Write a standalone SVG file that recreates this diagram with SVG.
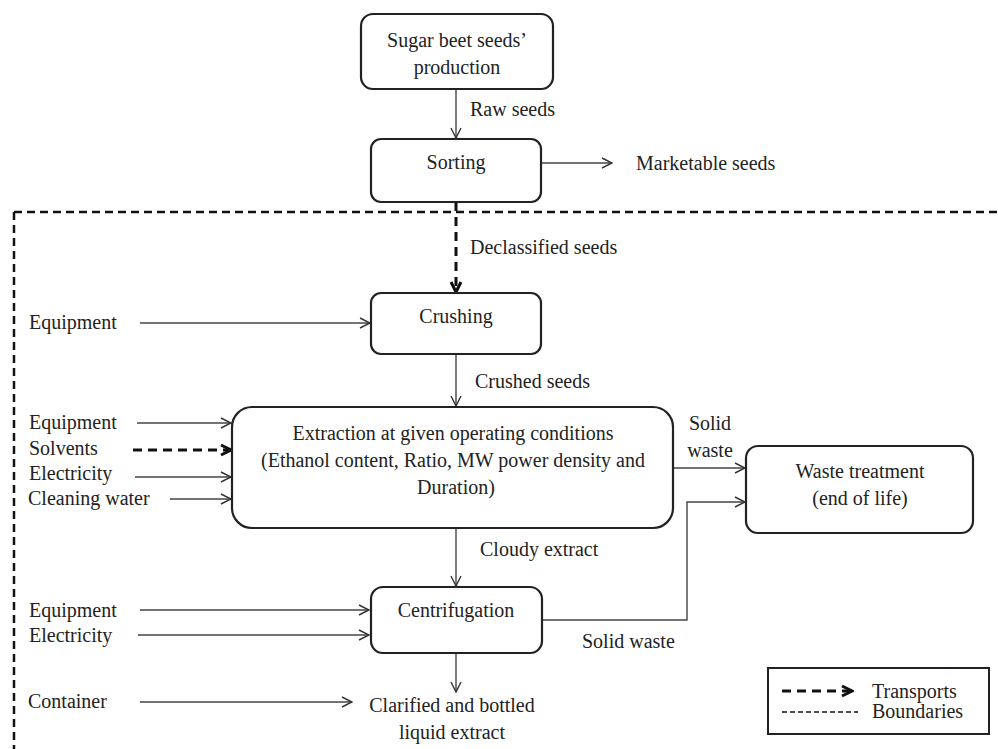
<svg xmlns="http://www.w3.org/2000/svg" width="998" height="749" viewBox="0 0 998 749">
<defs>
<style>
text{font-family:"Liberation Serif","Times New Roman",serif;font-size:20px;fill:#222}
.c{text-anchor:middle}
.box{fill:#fff;stroke:#222;stroke-width:2.2}
.ln{fill:none;stroke:#444;stroke-width:1.4}
.tr{fill:none;stroke:#111;stroke-width:3;stroke-dasharray:9 6}
.bd{fill:none;stroke:#111;stroke-width:2.5;stroke-dasharray:8 5}
</style>
<marker id="a" viewBox="0 0 12 12" refX="11" refY="6" markerWidth="12" markerHeight="12" markerUnits="userSpaceOnUse" orient="auto">
<path d="M1,1 L11,6 L1,11" fill="none" stroke="#333" stroke-width="1.4"/>
</marker>
<marker id="at" viewBox="0 0 14 14" refX="12" refY="7" markerWidth="14" markerHeight="14" markerUnits="userSpaceOnUse" orient="auto">
<path d="M2,2 L12,7 L2,12" fill="none" stroke="#111" stroke-width="3"/>
</marker>
</defs>

<g id="boundary">
<path class="bd" d="M14,212 H998"/>
<path class="bd" d="M14,212 V749" stroke-dasharray="6 4"/>
</g>

<g id="connectors">
<path class="ln" d="M456,89 V138" marker-end="url(#a)"/>
<path class="ln" d="M541,163 H612" marker-end="url(#a)"/>
<path class="tr" d="M456,202 V292" marker-end="url(#at)"/>
<path class="ln" d="M140,323 H370" marker-end="url(#a)"/>
<path class="ln" d="M456,354 V406" marker-end="url(#a)"/>
<path class="ln" d="M137,423 H231" marker-end="url(#a)"/>
<path class="tr" d="M133,450 H231" marker-end="url(#at)"/>
<path class="ln" d="M135,477 H231" marker-end="url(#a)"/>
<path class="ln" d="M170,499 H231" marker-end="url(#a)"/>
<path class="ln" d="M673,468 H745" marker-end="url(#a)"/>
<path class="ln" d="M542,620 H687 V502 H745" marker-end="url(#a)"/>
<path class="ln" d="M456,528 V586" marker-end="url(#a)"/>
<path class="ln" d="M140,610 H369" marker-end="url(#a)"/>
<path class="ln" d="M138,635 H369" marker-end="url(#a)"/>
<path class="ln" d="M456,653 V692" marker-end="url(#a)"/>
<path class="ln" d="M140,702 H352" marker-end="url(#a)"/>
</g>

<g id="seeds-production">
<rect class="box" x="361" y="14" width="192" height="75" rx="12"/>
<text class="c" x="457" y="47">Sugar beet seeds’</text>
<text class="c" x="457" y="74">production</text>
</g>
<g id="sorting">
<rect class="box" x="371" y="139" width="170" height="63" rx="10"/>
<text class="c" x="456" y="169">Sorting</text>
</g>
<g id="crushing">
<rect class="box" x="371" y="293" width="170" height="61" rx="10"/>
<text class="c" x="456" y="323">Crushing</text>
</g>
<g id="extraction">
<rect class="box" x="232" y="407" width="441" height="121" rx="20"/>
<text class="c" x="453" y="440">Extraction at given operating conditions</text>
<text class="c" x="453" y="467">(Ethanol content, Ratio, MW power density and</text>
<text class="c" x="456" y="494">Duration)</text>
</g>
<g id="waste-treatment">
<rect class="box" x="746" y="446" width="227" height="87" rx="12"/>
<text class="c" x="860" y="478">Waste treatment</text>
<text class="c" x="860" y="505">(end of life)</text>
</g>
<g id="centrifugation">
<rect class="box" x="371" y="587" width="171" height="66" rx="12"/>
<text class="c" x="456" y="617">Centrifugation</text>
</g>
<g id="clarified-extract">
<text class="c" x="452" y="712">Clarified and bottled</text>
<text class="c" x="452" y="739">liquid extract</text>
</g>

<g id="labels">
<text x="470" y="116">Raw seeds</text>
<text x="636" y="170">Marketable seeds</text>
<text x="470" y="254">Declassified seeds</text>
<text x="29" y="329">Equipment</text>
<text x="475" y="388">Crushed seeds</text>
<text x="29" y="429">Equipment</text>
<text x="29" y="455">Solvents</text>
<text x="29" y="480">Electricity</text>
<text x="28" y="505">Cleaning water</text>
<text class="c" x="710" y="430">Solid</text>
<text class="c" x="710" y="457">waste</text>
<text x="480" y="556">Cloudy extract</text>
<text x="29" y="617">Equipment</text>
<text x="29" y="642">Electricity</text>
<text x="582" y="648">Solid waste</text>
<text x="28" y="708">Container</text>
</g>

<g id="legend">
<rect x="768" y="668" width="221" height="66" fill="#fff" stroke="#222" stroke-width="2"/>
<path d="M782,691 H852" fill="none" stroke="#111" stroke-width="3" stroke-dasharray="9 6" marker-end="url(#at)"/>
<path d="M782,712 H858" fill="none" stroke="#111" stroke-width="1.5" stroke-dasharray="5 3"/>
<text x="872" y="698">Transports</text>
<text x="872" y="718">Boundaries</text>
</g>
</svg>
